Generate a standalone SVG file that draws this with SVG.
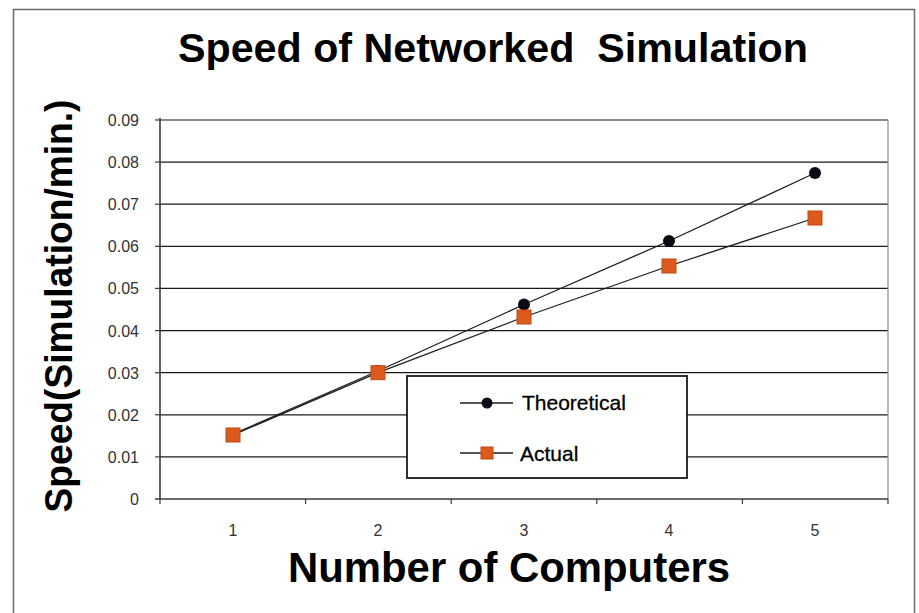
<svg xmlns="http://www.w3.org/2000/svg" width="919" height="613" viewBox="0 0 919 613">
  <style>
    .frame { fill: #ffffff; stroke: #6a6a6a; stroke-width: 1.5; }
    .grid { stroke: #1a1a1a; stroke-width: 1.2; fill: none; }
    .axis { stroke: #3a3a3a; stroke-width: 1.6; fill: none; }
    .tick { stroke: #3a3a3a; stroke-width: 1.2; }
    .plotedge { stroke: #8a8a8a; stroke-width: 1.2; fill: none; }
    .ylab { font-family: "Liberation Sans", Arial, sans-serif; font-size: 16px; fill: #333333; text-anchor: end; }
    .xlab { font-family: "Liberation Sans", Arial, sans-serif; font-size: 16px; fill: #333333; text-anchor: middle; }
    .title { font-family: "Liberation Sans", Arial, sans-serif; font-weight: bold; fill: #000000; }
    .series { stroke: #1e1e1e; stroke-width: 1.3; fill: none; }
    .dot { fill: #0a0a14; }
    .sq { fill: #dc5a1c; stroke: #c04a12; stroke-width: 1; }
    .legbox { fill: #ffffff; stroke: #1a1a1a; stroke-width: 1.8; }
    .legtext { font-family: "Liberation Sans", Arial, sans-serif; font-size: 21px; fill: #000000; stroke: #000000; stroke-width: 0.3; }
  </style>

  <!-- chart frame -->
  <rect class="frame" x="13.5" y="9.5" width="901" height="620"/>

  <!-- chart title -->
  <text class="title" x="493" y="62" font-size="41" text-anchor="middle" textLength="630" lengthAdjust="spacingAndGlyphs" xml:space="preserve">Speed of Networked  Simulation</text>

  <!-- axis titles -->
  <text class="title" x="509" y="582" font-size="42" text-anchor="middle" textLength="442" lengthAdjust="spacingAndGlyphs">Number of Computers</text>
  <text class="title" transform="translate(72,306) rotate(-90)" x="0" y="0" font-size="38" text-anchor="middle" textLength="413" lengthAdjust="spacingAndGlyphs">Speed(Simulation/min.)</text>

  <!-- plot area grid -->
  <g id="grid">
    <line class="grid" x1="160" y1="120" x2="888" y2="120"/>
    <line class="grid" x1="160" y1="162.1" x2="888" y2="162.1"/>
    <line class="grid" x1="160" y1="204.2" x2="888" y2="204.2"/>
    <line class="grid" x1="160" y1="246.3" x2="888" y2="246.3"/>
    <line class="grid" x1="160" y1="288.4" x2="888" y2="288.4"/>
    <line class="grid" x1="160" y1="330.6" x2="888" y2="330.6"/>
    <line class="grid" x1="160" y1="372.7" x2="888" y2="372.7"/>
    <line class="grid" x1="160" y1="414.8" x2="888" y2="414.8"/>
    <line class="grid" x1="160" y1="456.9" x2="888" y2="456.9"/>
    <line class="plotedge" x1="888" y1="120" x2="888" y2="499"/>
  </g>

  <!-- axes and ticks -->
  <g id="axes">
    <line class="axis" x1="160" y1="118" x2="160" y2="499"/>
    <line class="axis" x1="155" y1="499" x2="888" y2="499"/>
    <g class="tick">
      <line x1="155" y1="120" x2="160" y2="120"/>
      <line x1="155" y1="162.1" x2="160" y2="162.1"/>
      <line x1="155" y1="204.2" x2="160" y2="204.2"/>
      <line x1="155" y1="246.3" x2="160" y2="246.3"/>
      <line x1="155" y1="288.4" x2="160" y2="288.4"/>
      <line x1="155" y1="330.6" x2="160" y2="330.6"/>
      <line x1="155" y1="372.7" x2="160" y2="372.7"/>
      <line x1="155" y1="414.8" x2="160" y2="414.8"/>
      <line x1="155" y1="456.9" x2="160" y2="456.9"/>
      <line x1="160" y1="499" x2="160" y2="504"/>
      <line x1="305.6" y1="499" x2="305.6" y2="504"/>
      <line x1="451.2" y1="499" x2="451.2" y2="504"/>
      <line x1="596.8" y1="499" x2="596.8" y2="504"/>
      <line x1="742.4" y1="499" x2="742.4" y2="504"/>
      <line x1="888" y1="499" x2="888" y2="504"/>
    </g>
    <text class="ylab" x="139" y="126">0.09</text>
    <text class="ylab" x="139" y="168">0.08</text>
    <text class="ylab" x="139" y="210">0.07</text>
    <text class="ylab" x="139" y="252">0.06</text>
    <text class="ylab" x="139" y="294">0.05</text>
    <text class="ylab" x="139" y="337">0.04</text>
    <text class="ylab" x="139" y="379">0.03</text>
    <text class="ylab" x="139" y="421">0.02</text>
    <text class="ylab" x="139" y="463">0.01</text>
    <text class="ylab" x="139" y="505">0</text>
    <text class="xlab" x="233" y="536">1</text>
    <text class="xlab" x="378" y="536">2</text>
    <text class="xlab" x="524" y="536">3</text>
    <text class="xlab" x="669" y="536">4</text>
    <text class="xlab" x="815" y="536">5</text>
  </g>

  <!-- data series -->
  <g id="connectors">
    <polyline id="theoretical-line" class="series" points="233,434.2 378,371 524,304.5 669,241 815,173"/>
    <polyline id="actual-line" class="series" points="233,435 378,372.7 524,317 669,266 815,218"/>
  </g>

  <g id="theoretical-points">
    <circle class="dot" cx="233" cy="434.2" r="6"/>
    <circle class="dot" cx="378" cy="371" r="6"/>
    <circle class="dot" cx="524" cy="304.5" r="6"/>
    <circle class="dot" cx="669" cy="241" r="6"/>
    <circle class="dot" cx="815" cy="173" r="6"/>
  </g>

  <g id="actual-points">
    <rect class="sq" x="226" y="428" width="14" height="14"/>
    <rect class="sq" x="371" y="365.7" width="14" height="14"/>
    <rect class="sq" x="517" y="310" width="14" height="14"/>
    <rect class="sq" x="662" y="259" width="14" height="14"/>
    <rect class="sq" x="808" y="211" width="14" height="14"/>
  </g>

  <!-- legend -->
  <g id="legend">
    <rect class="legbox" x="407" y="376" width="280" height="102"/>
    <line class="series" x1="460" y1="403" x2="513" y2="403"/>
    <circle class="dot" cx="487" cy="403" r="5.5"/>
    <text class="legtext" x="522" y="410">Theoretical</text>
    <line class="series" x1="460" y1="453" x2="513" y2="453"/>
    <rect class="sq" x="481" y="447" width="12" height="12"/>
    <text class="legtext" x="520" y="461">Actual</text>
  </g>
</svg>
